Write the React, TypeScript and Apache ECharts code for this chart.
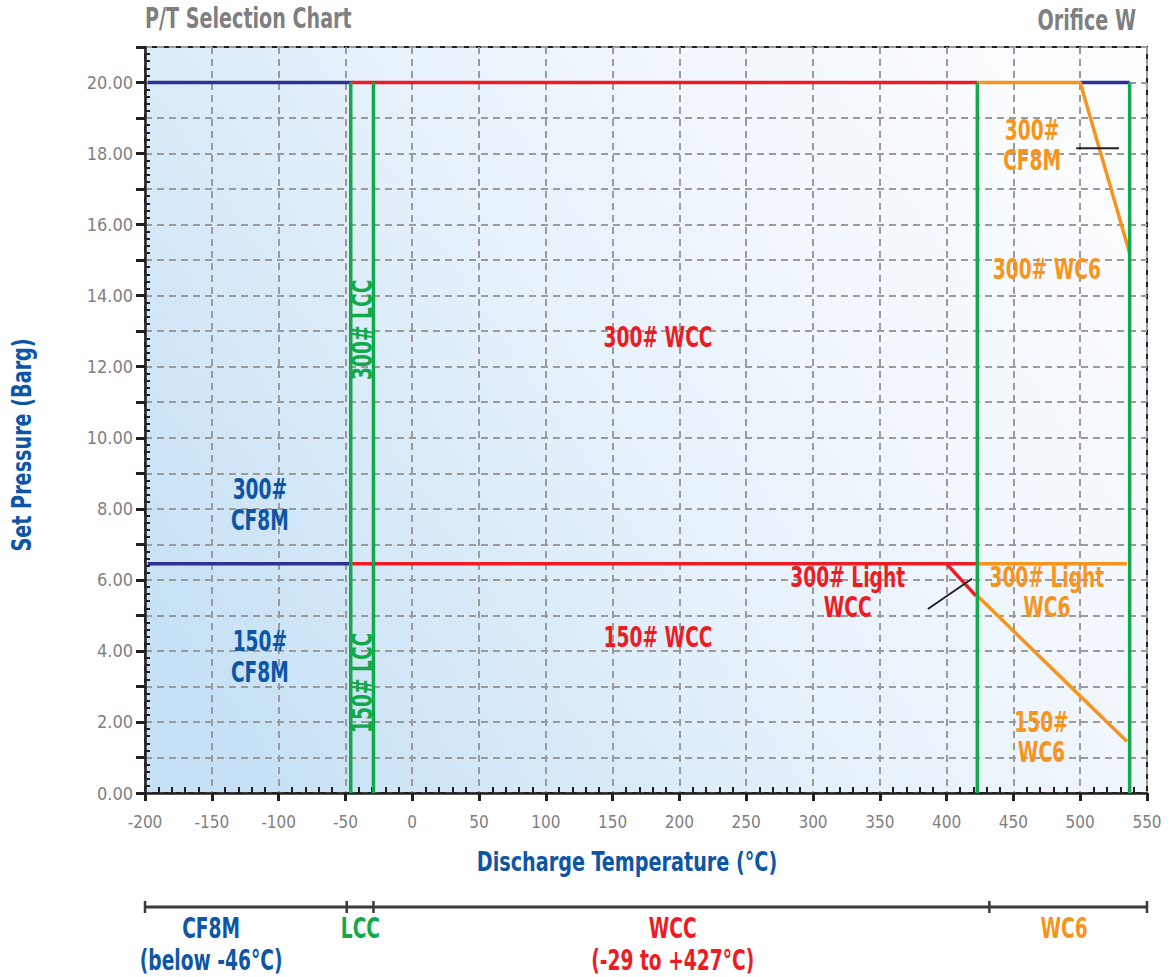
import React, { useEffect, useRef } from 'react';
import * as echarts from 'echarts';

const FONT = "'Liberation Sans Narrow', 'Arial Narrow', 'DejaVu Sans Condensed', sans-serif";
const BLUE = '#2e3192';
const TXT_BLUE = '#0d56a6';
const RED = '#ed1c24';
const GREEN = '#12a94b';
const ORANGE = '#f7941d';
const BLACK = '#231f20';
const GRAY = '#808080';
const SQUEEZE = 0.74;

// axis ranges
const xRange = [-200, 550];
const yRange = [0, 21];

// line segments [temperature, pressure]
const blueSegments = [
  [[-198, 20], [-46, 20]],
  [[-198, 6.45], [-46, 6.45]],
  [[500, 20], [537, 20]],
];
const redSegments = [
  [[-46, 20], [423, 20]],
  [[-46, 6.45], [423, 6.45]],
  [[400, 6.45], [422, 5.55]],
];
const orangeSegments = [
  [[423, 20], [500, 20], [537, 15.2]],
  [[424, 6.45], [535, 6.45]],
  [[423, 5.55], [535, 1.45]],
];
const greenSegments = [
  [[-46, 0], [-46, 20]],
  [[-29, 0], [-29, 20]],
  [[423, 0], [423, 20]],
  [[537, 0], [537, 20]],
];
const blackSegments = [
  [[497, 18.15], [529, 18.15]],
  [[386, 5.18], [419, 6.03]],
];

// region labels [text, temperature, pressure]
const blueLabels = [
  ['300#\nCF8M', -114, 8.1],
  ['150#\nCF8M', -114, 3.83],
];
const redLabels = [
  ['300# WCC', 184, 12.82],
  ['150# WCC', 184, 4.37],
  ['300# Light\nWCC', 326, 5.66],
];
const greenLabels = [
  ['300# LCC', -37.5, 13.04],
  ['150# LCC', -37.5, 3.1],
];
const orangeLabels = [
  ['300#\nCF8M', 464, 18.23],
  ['300# WC6', 475, 14.73],
  ['300# Light\nWC6', 475, 5.66],
  ['150#\nWC6', 471, 1.58],
];

// material range bar
const rangeTicks = [-200, -49, -29, 432, 550];
const rangeLabels = [
  ['CF8M\n(below -46°C)', -150.5, -3.08, TXT_BLUE],
  ['LCC', -38.75, -1.75, GREEN],
  ['WCC\n(-29 to +427°C)', 195, -3.08, RED],
  ['WC6', 488, -1.75, ORANGE],
];

export default function App() {
  const ref = useRef<HTMLDivElement>(null);
  useEffect(() => {
    document.body.style.margin = '0';
    const chart = echarts.init(ref.current!, null, { renderer: 'svg' });

    const lines = (segs: number[][][], color: string, width: number, z: number) =>
      segs.map((d) => ({
        type: 'line',
        xAxisIndex: 0,
        yAxisIndex: 0,
        data: d,
        symbol: 'none',
        showSymbol: false,
        silent: true,
        clip: false,
        z,
        lineStyle: { color, width, cap: 'butt' },
      }));

    const labels = (items: any[], color: string | null, axisIdx: number, lineHeight: number, rotate = 0) => ({
      type: 'custom',
      xAxisIndex: axisIdx,
      yAxisIndex: axisIdx,
      silent: true,
      clip: false,
      z: 10,
      data: items.map((it) => [it[1], it[2]]),
      renderItem: (params: any, api: any) => {
        const it = items[params.dataIndex];
        const p = api.coord([api.value(0), api.value(1)]);
        return {
          type: 'text',
          x: p[0],
          y: p[1],
          rotation: rotate,
          scaleX: SQUEEZE,
          style: {
            text: it[0],
            fill: color || it[3],
            font: `bold 28px ${FONT}`,
            lineHeight,
            align: 'center',
            verticalAlign: 'middle',
          },
        };
      },
    });

    const gradient = new echarts.graphic.LinearGradient(0, 0.75, 1, 0.25, [
      { offset: 0, color: '#c6e1f5' },
      { offset: 0.5, color: '#e8f2fb' },
      { offset: 1, color: '#fcfdff' },
    ]);

    const option: any = {
      animation: false,
      grid: [
        {
          left: 145, right: 24, top: 47, bottom: 184,
          show: true, backgroundColor: gradient, borderColor: BLACK, borderWidth: 2,
          outerBoundsMode: 'none',
        },
        { left: 145, right: 24, top: 895, height: 84, outerBoundsMode: 'none' },
      ],
      xAxis: [
        {
          gridIndex: 0, type: 'value', min: xRange[0], max: xRange[1], interval: 50,
          axisLine: { show: true, onZero: false, lineStyle: { color: BLACK, width: 2.5 } },
          axisTick: { show: true, length: 8, lineStyle: { color: BLACK, width: 3 } },
          minorTick: { show: true, splitNumber: 5, length: -6, lineStyle: { color: BLACK, width: 2 } },
          axisLabel: { color: GRAY, fontFamily: FONT, fontSize: 17, margin: 20, showMinLabel: true, showMaxLabel: true },
          splitLine: { show: true, lineStyle: { color: '#9b9b9b', type: [7, 5], width: 2 } },
        },
        { gridIndex: 1, type: 'value', min: xRange[0], max: xRange[1], show: false },
      ],
      yAxis: [
        {
          gridIndex: 0, type: 'value', min: yRange[0], max: yRange[1], interval: 1,
          axisLine: { show: true, onZero: false, lineStyle: { color: BLACK, width: 2.5 } },
          axisTick: { show: true, length: 9, lineStyle: { color: BLACK, width: 3 } },
          minorTick: { show: true, splitNumber: 5, length: -5, lineStyle: { color: BLACK, width: 2 } },
          axisLabel: {
            color: GRAY, fontFamily: FONT, fontSize: 18, margin: 12,
            formatter: (v: number) => (v % 2 === 0 ? v.toFixed(2) : ''),
          },
          splitLine: { show: true, lineStyle: { color: '#9b9b9b', type: [7, 5], width: 2 } },
        },
        { gridIndex: 1, type: 'value', min: -6, max: 1, show: false },
      ],
      graphic: [
        { type: 'text', x: 145, y: 18, scaleX: 0.76, style: { text: 'P/T Selection Chart', fill: '#7f7f7f', font: `bold 28px ${FONT}`, verticalAlign: 'middle' } },
        { type: 'text', x: 1136, y: 20, scaleX: 0.76, style: { text: 'Orifice W', fill: '#7f7f7f', font: `bold 28px ${FONT}`, align: 'right', verticalAlign: 'middle' } },
        { type: 'text', x: 22, y: 445, rotation: Math.PI / 2, scaleX: 0.79, style: { text: 'Set Pressure (Barg)', fill: TXT_BLUE, font: `bold 27px ${FONT}`, align: 'center', verticalAlign: 'middle' } },
        { type: 'text', x: 627, y: 862, scaleX: 0.79, style: { text: 'Discharge Temperature (°C)', fill: TXT_BLUE, font: `bold 27px ${FONT}`, align: 'center', verticalAlign: 'middle' } },
      ],
      series: [
        ...lines(blueSegments, BLUE, 3.5, 3),
        ...lines(redSegments, RED, 3.5, 4),
        ...lines(orangeSegments, ORANGE, 3.5, 4),
        ...lines(greenSegments, GREEN, 3.5, 5),
        ...lines(blackSegments, BLACK, 2, 6),
        labels(blueLabels, TXT_BLUE, 0, 31),
        labels(redLabels, RED, 0, 30),
        labels(orangeLabels, ORANGE, 0, 30),
        labels(greenLabels, GREEN, 0, 30, Math.PI / 2),
        {
          type: 'line', xAxisIndex: 1, yAxisIndex: 1, symbol: 'none', silent: true, clip: false,
          data: [[xRange[0], 0], [xRange[1], 0]],
          lineStyle: { color: '#3a3a3a', width: 3 },
        },
        {
          type: 'scatter', xAxisIndex: 1, yAxisIndex: 1, silent: true, clip: false,
          symbol: 'rect', symbolSize: [2.5, 12],
          itemStyle: { color: '#3a3a3a', opacity: 1 },
          data: rangeTicks.map((t) => [t, 0]),
        },
        labels(rangeLabels, null, 1, 32),
      ],
    };
    chart.setOption(option);
    return () => chart.dispose();
  }, []);
  return <div ref={ref} style={{ width: 1171, height: 977 }} />;
}
